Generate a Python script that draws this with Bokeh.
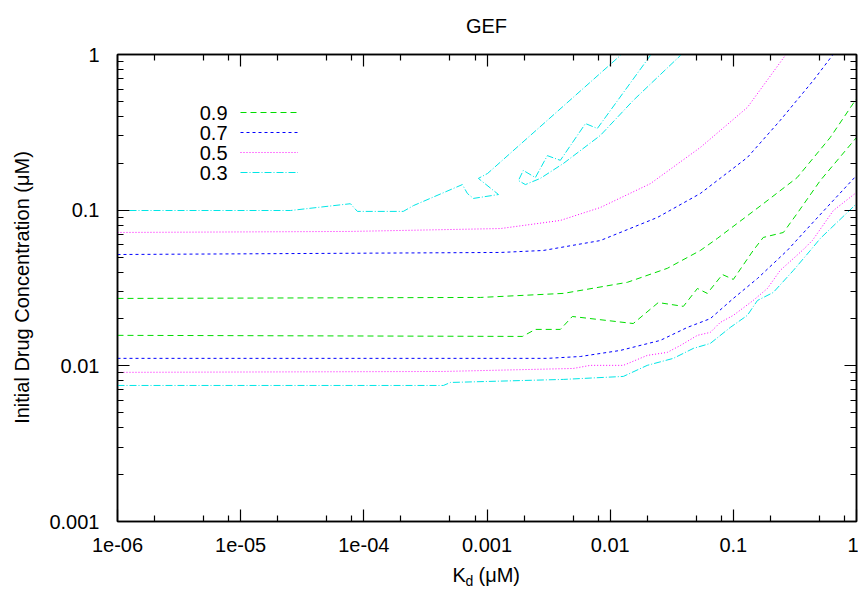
import math
from bokeh.plotting import figure
from bokeh.models import (Range1d, LogAxis, FixedTicker, CustomJSTickFormatter,
                          Label, Legend, LegendItem)
from bokeh.core.properties import value
from bokeh.embed import file_html
from bokeh.resources import INLINE

# ---------------- data ----------------
title_text = "GEF"
x_label_main = "K"
x_label_sub = "d"
x_label_tail = "(\u03bcM)"
y_label_text = "Initial Drug Concentration (\u03bcM)"

x_ticks = [1e-6, 1e-5, 1e-4, 1e-3, 1e-2, 1e-1, 1.0]
x_tick_labels = ["1e-06", "1e-05", "1e-04", "0.001", "0.01", "0.1", "1"]
y_ticks = [1e-3, 1e-2, 1e-1, 1.0]
y_tick_labels = ["0.001", "0.01", "0.1", "1"]
x_minor_mult = [2, 5, 8]
y_minor_mult = [2, 3, 4, 5, 6, 7, 8, 9]

legend_labels = ["0.9", "0.7", "0.5", "0.3"]

# 0.9 (green) - upper curve
g1_x = [1e-6, 8.83e-4, 4.17e-3, 0.0138, 0.0291, 0.0540, 0.0741, 0.175, 0.330, 0.612, 1.0]
g1_y = [0.0271, 0.0275, 0.0292, 0.0344, 0.0423, 0.0551, 0.0658, 0.110, 0.162, 0.293, 0.521]
# 0.9 (green) - lower curve
g2_x = [1e-6, 1.94e-3, 2.47e-3, 3.94e-3, 4.93e-3, 0.0154, 0.0246, 0.0393, 0.0511, 0.0615,
        0.0815, 0.100, 0.145, 0.175, 0.255, 0.330, 0.508, 1.0]
g2_y = [0.0157, 0.01545, 0.01714, 0.01714, 0.02075, 0.0187, 0.0255, 0.0241, 0.0314, 0.0292,
        0.0386, 0.0359, 0.0551, 0.0668, 0.0719, 0.0953, 0.155, 0.293]

# 0.7 (blue) - upper curve
b1_x = [1e-6, 1.29e-3, 2.87e-3, 8.32e-3, 0.0242, 0.054, 0.130, 0.240, 0.446, 0.637, 0.80]
b1_y = [0.0519, 0.0535, 0.0551, 0.0638, 0.0898, 0.128, 0.218, 0.377, 0.681, 0.986, 1.35]
# 0.7 (blue) - lower curve
b2_x = [1e-6, 3.09e-3, 5.73e-3, 0.0121, 0.0255, 0.0424, 0.065, 0.1, 0.157, 0.274, 0.399, 0.612, 1.0]
b2_y = [0.01117, 0.01117, 0.01148, 0.01256, 0.01456, 0.01766, 0.0201, 0.0271, 0.0364, 0.0551,
        0.0762, 0.110, 0.167]

# 0.5 (magenta) - upper curve
m1_x = [1e-6, 7.78e-5, 1.29e-3, 3.94e-3, 8.32e-3, 0.0212, 0.054, 0.130, 0.264, 0.33]
m1_y = [0.0719, 0.073, 0.0762, 0.0859, 0.104, 0.148, 0.253, 0.457, 0.986, 1.35]
# 0.5 (magenta) - lower curve
m2_x = [1e-6, 4.4e-4, 5.02e-3, 6.90e-3, 0.0128, 0.020, 0.0291, 0.0372, 0.0511, 0.065, 0.0783,
        0.1, 0.145, 0.189, 0.240, 0.363, 0.438, 0.649, 1.0]
m2_y = [0.00908, 0.0092, 0.00962, 0.01007, 0.01007, 0.01167, 0.0122, 0.01352, 0.0157, 0.0164,
        0.0190, 0.0211, 0.0263, 0.0314, 0.0410, 0.0551, 0.0638, 0.0995, 0.130]

# 0.3 (cyan) - upper curve, first branch
c1_x = [1e-6, 2.54e-5, 7.78e-5, 8.87e-5, 2.09e-4, 2.53e-4, 6.31e-4, 6.93e-4, 7.76e-4,
        1.24e-3, 8.51e-4, 1.01e-3, 0.0121, 0.0192]
c1_y = [0.0995, 0.0995, 0.110, 0.0982, 0.0982, 0.107, 0.146, 0.128, 0.119,
        0.126, 0.160, 0.172, 0.986, 1.36]
# 0.3 (cyan) - upper curve, second branch
c2_x = [0.0281, 0.0212, 7.87e-3, 6.30e-3, 3.94e-3, 3.09e-3, 2.47e-3, 1.97e-3, 1.80e-3,
        2.05e-3, 2.71e-3, 4.17e-3, 8.32e-3, 0.0154, 0.0372, 0.054]
c2_y = [1.32, 0.986, 0.335, 0.360, 0.209, 0.224, 0.162, 0.180, 0.155,
        0.146, 0.160, 0.1995, 0.302, 0.507, 0.986, 1.31]
# 0.3 (cyan) - lower curve
c3_x = [1e-6, 4.43e-4, 5.05e-4, 4.17e-3, 0.0128, 0.020, 0.0326, 0.0473, 0.065, 0.0946,
        0.130, 0.157, 0.211, 0.307, 0.422, 0.508, 1.0]
c3_y = [0.00748, 0.00748, 0.00782, 0.00818, 0.00855, 0.01007, 0.01117, 0.01294, 0.01393,
        0.01766, 0.0211, 0.0263, 0.0296, 0.0410, 0.0551, 0.0658, 0.110]

# ---------------- styles ----------------
FONT = "Liberation Sans"
GREEN, BLUE, MAGENTA, CYAN = "#00dd00", "#0000ff", "#ff00ff", "#00e6e6"
D_GREEN, D_BLUE, D_MAG, D_CYAN = "6 4", "3 3", "1 2", "7 2 1 2"

FL, FR, FT, FB = 117, 2, 54, 68
FW, FH = 739, 467

p = figure(frame_width=FW, frame_height=FH, x_axis_type="log", y_axis_type="log",
           x_range=Range1d(1e-6, 1.0), y_range=Range1d(1e-3, 1.0),
           output_backend="svg", toolbar_location=None,
           min_border_left=FL, min_border_right=FR, min_border_top=FT, min_border_bottom=FB,
           background_fill_color="white", border_fill_color="white")
p.xgrid.visible = False
p.ygrid.visible = False
p.outline_line_color = "black"
p.outline_line_width = 1.5

x_minor = [m * t for t in x_ticks[:-1] for m in x_minor_mult]
y_minor = [m * t for t in y_ticks[:-1] for m in y_minor_mult]
xt = FixedTicker(ticks=x_ticks, minor_ticks=x_minor)
yt = FixedTicker(ticks=y_ticks, minor_ticks=y_minor)

fmt_code = """
let best = -1, bd = 1e9;
for (let i = 0; i < tvals.length; i++) {
  const d = Math.abs(Math.log10(tvals[i]) - Math.log10(tick));
  if (d < bd) { bd = d; best = i; }
}
return (best >= 0 && bd < 1e-6) ? tlabels[best] : "";
"""
xfmt = CustomJSTickFormatter(args=dict(tvals=x_ticks, tlabels=x_tick_labels), code=fmt_code)
yfmt = CustomJSTickFormatter(args=dict(tvals=y_ticks, tlabels=y_tick_labels), code=fmt_code)
blank = CustomJSTickFormatter(code="return '';")

def style_axis(ax, ticker, fmt, show_labels=True):
    ax.ticker = ticker
    ax.formatter = fmt
    ax.major_tick_in = 12
    ax.major_tick_out = 0
    ax.minor_tick_in = 6
    ax.minor_tick_out = 0
    ax.major_tick_line_color = "black"
    ax.minor_tick_line_color = "black"
    ax.major_tick_line_width = 1.2
    ax.minor_tick_line_width = 1.2
    ax.axis_line_color = "black"
    ax.axis_line_width = 1.5
    ax.major_label_text_font = FONT
    ax.major_label_text_color = "black"
    if show_labels:
        ax.major_label_text_font_size = "20px"
    else:
        ax.major_label_text_font_size = "0px"
        ax.major_label_standoff = 0

style_axis(p.xaxis[0], xt, xfmt)
style_axis(p.yaxis[0], yt, yfmt)
p.xaxis[0].major_label_standoff = 16
p.yaxis[0].major_label_standoff = 18

top_ax = LogAxis()
style_axis(top_ax, xt, blank, show_labels=False)
p.add_layout(top_ax, "above")
right_ax = LogAxis()
style_axis(right_ax, yt, blank, show_labels=False)
p.add_layout(right_ax, "right")

# ---------------- curves ----------------
r_g1 = p.line(g1_x, g1_y, line_color=GREEN, line_width=1, line_dash=D_GREEN)
p.line(g2_x, g2_y, line_color=GREEN, line_width=1, line_dash=D_GREEN)
r_b1 = p.line(b1_x, b1_y, line_color=BLUE, line_width=1, line_dash=D_BLUE)
p.line(b2_x, b2_y, line_color=BLUE, line_width=1, line_dash=D_BLUE)
r_m1 = p.line(m1_x, m1_y, line_color=MAGENTA, line_width=1, line_dash=D_MAG)
p.line(m2_x, m2_y, line_color=MAGENTA, line_width=1, line_dash=D_MAG)
r_c1 = p.line(c1_x, c1_y, line_color=CYAN, line_width=1, line_dash=D_CYAN)
p.line(c2_x, c2_y, line_color=CYAN, line_width=1, line_dash=D_CYAN)
p.line(c3_x, c3_y, line_color=CYAN, line_width=1, line_dash=D_CYAN)

# ---------------- legend (samples via Legend, texts via Labels) ----------------
ROW = 20
legend = Legend(items=[LegendItem(label=value(""), renderers=[r]) for r in (r_g1, r_b1, r_m1, r_c1)],
                location=(123, FH - (102 - FT) - 4 * ROW),
                padding=0, margin=0, spacing=0, glyph_width=58, glyph_height=ROW,
                label_height=ROW, label_standoff=0, label_text_font_size="1px",
                border_line_alpha=0, background_fill_alpha=0)
p.add_layout(legend, "center")

for i, lab in enumerate(legend_labels):
    cy = 102 + ROW * i + ROW / 2
    p.add_layout(Label(x=227 - FL, y=FH - (cy - FT), x_units="screen", y_units="screen",
                       text=lab, text_font=FONT, text_font_size="20px",
                       text_align="right", text_baseline="middle", text_color="black"))

# ---------------- titles / axis labels (canvas units, in side panels: not clipped) ----------------
def canvas_label(side, **kw):
    lab = Label(x_units="canvas", y_units="canvas", text_font=FONT, text_color="black", **kw)
    p.add_layout(lab, side)

canvas_label("above", x=486, y=25, text=title_text, text_font_size="20px",
             text_align="center", text_baseline="middle")
canvas_label("above", x=465, y=580, text=x_label_sub, text_font_size="14px",
             text_align="left", text_baseline="middle")
canvas_label("left", x=21, y=287, text=y_label_text, text_font_size="20px",
             angle=math.pi / 2, text_align="center", text_baseline="middle")
canvas_label("left", x=452, y=574, text=x_label_main, text_font_size="20px",
             text_align="left", text_baseline="middle")
canvas_label("below", x=478, y=574, text=x_label_tail, text_font_size="20px",
             text_align="left", text_baseline="middle")

open("out.html", "w").write(file_html(p, INLINE))
